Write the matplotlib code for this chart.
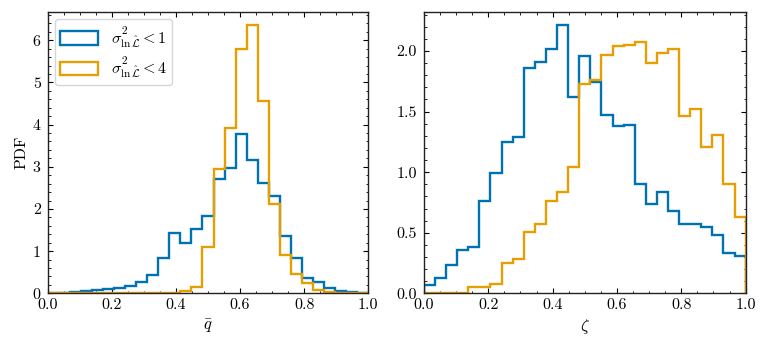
import numpy as np
import matplotlib
matplotlib.use("Agg")
import matplotlib.pyplot as plt
from matplotlib.ticker import MultipleLocator, FormatStrFormatter

# ---- data (density values per bin, 29 equal bins on [0, 1]) ----
bin_edges = np.linspace(0.0, 1.0, 30)

qbar_sig1 = [0.02, 0.01, 0.04, 0.06, 0.08, 0.10, 0.13, 0.17, 0.27, 0.43,
             0.85, 1.44, 1.20, 1.53, 1.84, 2.72, 2.98, 3.77, 3.17, 2.62,
             2.30, 1.36, 0.83, 0.36, 0.27, 0.13, 0.06, 0.03, 0.01]
qbar_sig4 = [0.0, 0.0, 0.0, 0.0, 0.0, 0.0, 0.0, 0.0, 0.0, 0.0,
             0.02, 0.02, 0.06, 0.16, 1.10, 2.94, 3.93, 5.79, 6.35, 4.56,
             2.13, 0.91, 0.46, 0.25, 0.09, 0.03, 0.01, 0.0, 0.0]

zeta_sig1 = [0.07, 0.13, 0.23, 0.36, 0.38, 0.76, 0.99, 1.25, 1.29, 1.86,
             1.91, 2.02, 2.21, 1.62, 1.96, 1.74, 1.47, 1.38, 1.39, 0.90,
             0.74, 0.84, 0.68, 0.57, 0.57, 0.55, 0.48, 0.33, 0.31]
zeta_sig4 = [0.0, 0.0, 0.0, 0.0, 0.055, 0.055, 0.08, 0.25, 0.28, 0.51,
             0.575, 0.76, 0.84, 1.04, 1.73, 1.76, 1.97, 2.04, 2.05, 2.07,
             1.90, 1.98, 2.02, 1.46, 1.52, 1.21, 1.31, 0.90, 0.63]

labels = [r"$\sigma^2_{\ln\hat{\mathcal{L}}} < 1$",
          r"$\sigma^2_{\ln\hat{\mathcal{L}}} < 4$"]
colors = ["#0072B2", "#E69F00"]

plt.rcParams.update({
    "font.family": "serif",
    "font.serif": ["cmr10", "DejaVu Serif"],
    "mathtext.fontset": "cm",
    "axes.formatter.use_mathtext": True,
    "font.size": 11.5,
    "axes.linewidth": 1.0,
    "axes.edgecolor": "#222222",
    "xtick.direction": "in",
    "ytick.direction": "in",
    "xtick.top": True,
    "ytick.right": True,
    "xtick.major.size": 3.5,
    "ytick.major.size": 3.5,
    "xtick.minor.size": 1.8,
    "ytick.minor.size": 1.8,
    "xtick.major.width": 0.8,
    "ytick.major.width": 0.8,
    "xtick.minor.width": 0.6,
    "ytick.minor.width": 0.6,
    "xtick.major.pad": 3.5,
    "ytick.major.pad": 5.0,
    "xtick.minor.visible": True,
    "ytick.minor.visible": True,
})

fig = plt.figure(figsize=(7.68, 3.48), dpi=100)
ax1 = fig.add_axes([0.0621, 0.157, 0.4174, 0.8083])
ax2 = fig.add_axes([0.552, 0.157, 0.4189, 0.8083])

for vals, c, lab in zip([qbar_sig1, qbar_sig4], colors, labels):
    ax1.hist(bin_edges[:-1], bins=bin_edges, weights=vals, histtype="step",
             color=c, lw=1.7, label=lab)
for vals, c in zip([zeta_sig1, zeta_sig4], colors):
    ax2.hist(bin_edges[:-1], bins=bin_edges, weights=vals, histtype="step",
             color=c, lw=1.7)

ax1.set_xlim(0, 1)
ax1.set_ylim(0, max(qbar_sig4) * 1.05)
ax2.set_xlim(0, 1)
ax2.set_ylim(0, max(zeta_sig1) * 1.05)

ax1.xaxis.set_major_locator(MultipleLocator(0.2))
ax1.xaxis.set_minor_locator(MultipleLocator(0.05))
ax1.yaxis.set_major_locator(MultipleLocator(1))
ax1.yaxis.set_minor_locator(MultipleLocator(0.2))
ax2.xaxis.set_major_locator(MultipleLocator(0.2))
ax2.xaxis.set_minor_locator(MultipleLocator(0.05))
ax2.yaxis.set_major_locator(MultipleLocator(0.5))
ax2.yaxis.set_minor_locator(MultipleLocator(0.1))

ax1.xaxis.set_major_formatter(FormatStrFormatter("%.1f"))
ax2.xaxis.set_major_formatter(FormatStrFormatter("%.1f"))
ax2.yaxis.set_major_formatter(FormatStrFormatter("%.1f"))
ax1.yaxis.set_major_formatter(FormatStrFormatter("%d"))

ax1.set_xlabel(r"$\bar{q}$", fontsize=12)
ax2.set_xlabel(r"$\zeta$", fontsize=12)
ax1.set_ylabel("PDF", fontsize=11.5, labelpad=3)

ax1.legend(loc="upper left", fontsize=11.5, handlelength=2.4, handleheight=0.9,
           frameon=True, fancybox=True, edgecolor="0.8", framealpha=0.8,
           borderaxespad=0.45, borderpad=0.3, labelspacing=0.3, handletextpad=0.8)

fig.savefig("out.png", dpi=100)
